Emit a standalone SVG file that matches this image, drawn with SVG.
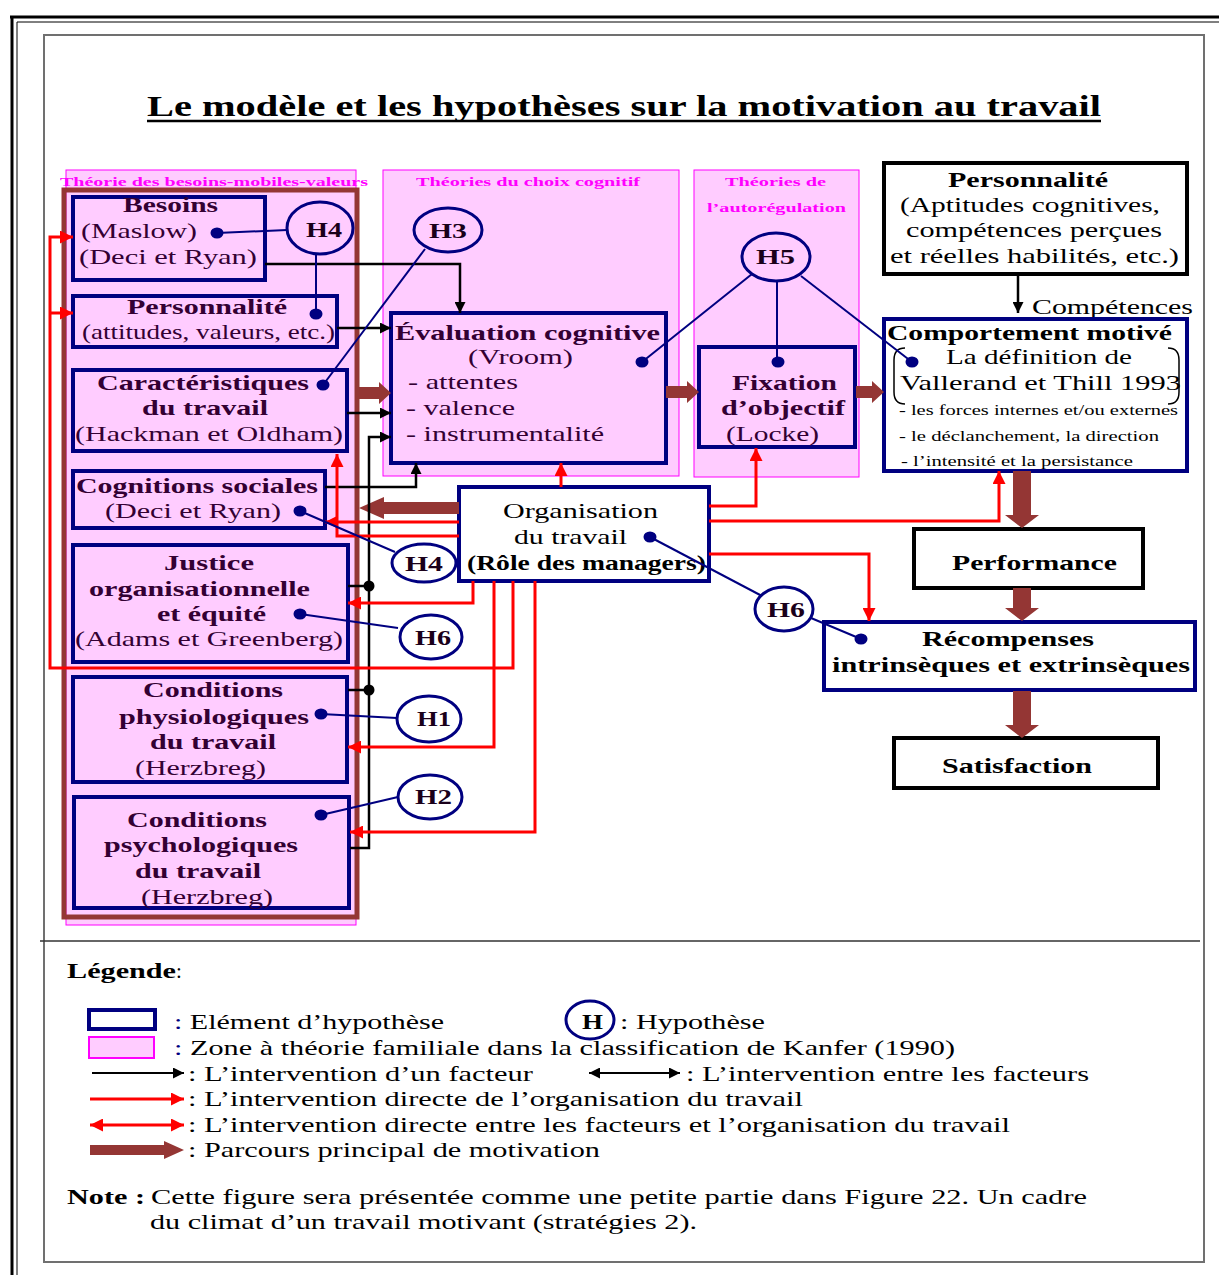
<svg xmlns="http://www.w3.org/2000/svg" width="1219" height="1275" viewBox="0 0 1219 1275">
<defs>
<style>
.z{fill:#FFCCFF;stroke:#FF00FF;stroke-width:1}
.n{fill:#FFCCFF;stroke:#000080;stroke-width:4}
.nw{fill:#fff;stroke:#000080;stroke-width:4}
.bk{fill:#fff;stroke:#000;stroke-width:4}
.t{font-family:"Liberation Serif","Times New Roman",serif;font-size:21px;fill:#330033}
.tk{font-family:"Liberation Serif","Times New Roman",serif;font-size:21px;fill:#000}
.s{font-family:"Liberation Serif","Times New Roman",serif;font-size:14px;fill:#000}
.b{font-weight:bold}
.zl{font-family:"Liberation Serif","Times New Roman",serif;font-size:13px;font-weight:bold;fill:#FF00FF}
.h{fill:none;stroke:#000080;stroke-width:3}
.ht{font-family:"Liberation Serif","Times New Roman",serif;font-size:21px;font-weight:bold;fill:#1a001a}
.dot{fill:#000080}
.bl{stroke:#000080;stroke-width:2;fill:none}
.k{stroke:#000;stroke-width:2.5;fill:none}
.r{stroke:#FF0000;stroke-width:3;fill:none}
.br{fill:#943634}
.fr{fill:none;stroke:#000}
</style>
<marker id="ak" viewBox="0 0 10 10" refX="10" refY="5" markerWidth="11" markerHeight="11" markerUnits="userSpaceOnUse" orient="auto-start-reverse"><path d="M0,0 L10,5 L0,10 z" fill="#000"/></marker>
<marker id="ar" viewBox="0 0 10 10" refX="10" refY="5" markerWidth="13" markerHeight="13" markerUnits="userSpaceOnUse" orient="auto-start-reverse"><path d="M0,0 L10,5 L0,10 z" fill="#FF0000"/></marker>
</defs>
<rect x="0" y="0" width="1219" height="1275" fill="#fff"/>

<!-- page frames -->
<g id="frame">
<path class="fr" d="M10,17 H1219 M12,17 V1275" stroke-width="3"/>
<path class="fr" d="M17,22 H1219 M17,22 V1275" stroke-width="1"/>
<rect x="44" y="35" width="1160" height="1227" fill="none" stroke="#707070" stroke-width="2"/>
<line x1="40" y1="941" x2="1200" y2="941" stroke="#333" stroke-width="1.5"/>
</g>

<g id="title">
<text x="147" y="116" textLength="954" lengthAdjust="spacingAndGlyphs" style="font-family:'Liberation Serif',serif;font-size:29px;font-weight:bold;fill:#000">Le modèle et les hypothèses sur la motivation au travail</text>
<line x1="147" y1="121" x2="1101" y2="121" stroke="#000" stroke-width="2.5"/>
</g>

<!-- theory zones -->
<g id="zone-besoins">
<rect class="z" x="66" y="170" width="290" height="755"/>
<text class="zl" x="60" y="186" textLength="308" lengthAdjust="spacingAndGlyphs">Théorie des besoins-mobiles-valeurs</text>
<rect x="64" y="190" width="293" height="727" fill="none" stroke="#943634" stroke-width="5"/>
</g>
<g id="zone-choix">
<rect class="z" x="383" y="170" width="296" height="306"/>
<text class="zl" x="416" y="186" textLength="224" lengthAdjust="spacingAndGlyphs">Théories du choix cognitif</text>
</g>
<g id="zone-autoregulation">
<rect class="z" x="694" y="170" width="165" height="307"/>
<text class="zl" x="725" y="186" textLength="101" lengthAdjust="spacingAndGlyphs">Théories de</text>
<text class="zl" x="707" y="212" textLength="139" lengthAdjust="spacingAndGlyphs">l’autorégulation</text>
</g>

<!-- left nodes -->
<g id="besoins">
<rect class="n" x="73" y="197" width="192" height="83"/>
<text class="t b" x="123" y="212" textLength="95" lengthAdjust="spacingAndGlyphs">Besoins</text>
<text class="t" x="81" y="238" textLength="116" lengthAdjust="spacingAndGlyphs">(Maslow)</text>
<text class="t" x="79" y="264" textLength="178" lengthAdjust="spacingAndGlyphs">(Deci et Ryan)</text>
<ellipse class="dot" cx="217" cy="233" rx="6.5" ry="5.5"/>
</g>
<g id="personnalite-gauche">
<rect class="n" x="73" y="296" width="264" height="51"/>
<text class="t b" x="127" y="314" textLength="160" lengthAdjust="spacingAndGlyphs">Personnalité</text>
<text class="t" x="82" y="339" textLength="253" lengthAdjust="spacingAndGlyphs">(attitudes, valeurs, etc.)</text>
<ellipse class="dot" cx="316" cy="314" rx="6.5" ry="5.5"/>
</g>
<g id="caracteristiques">
<rect class="n" x="73" y="370" width="274" height="81"/>
<text class="t b" x="97" y="390" textLength="212" lengthAdjust="spacingAndGlyphs">Caractéristiques</text>
<text class="t b" x="142" y="415" textLength="126" lengthAdjust="spacingAndGlyphs">du travail</text>
<text class="t" x="75" y="441" textLength="268" lengthAdjust="spacingAndGlyphs">(Hackman et Oldham)</text>
<ellipse class="dot" cx="323" cy="385" rx="6.5" ry="5.5"/>
</g>
<g id="cognitions-sociales">
<rect class="n" x="73" y="471" width="252" height="57"/>
<text class="t b" x="76" y="493" textLength="242" lengthAdjust="spacingAndGlyphs">Cognitions sociales</text>
<text class="t" x="105" y="518" textLength="176" lengthAdjust="spacingAndGlyphs">(Deci et Ryan)</text>
<ellipse class="dot" cx="300" cy="511" rx="6.5" ry="5.5"/>
</g>
<g id="justice">
<rect class="n" x="73" y="545" width="275" height="117"/>
<text class="t b" x="164" y="570" textLength="90" lengthAdjust="spacingAndGlyphs">Justice</text>
<text class="t b" x="89" y="596" textLength="221" lengthAdjust="spacingAndGlyphs">organisationnelle</text>
<text class="t b" x="157" y="621" textLength="109" lengthAdjust="spacingAndGlyphs">et équité</text>
<text class="t" x="75" y="646" textLength="268" lengthAdjust="spacingAndGlyphs">(Adams et Greenberg)</text>
<ellipse class="dot" cx="300" cy="614" rx="6.5" ry="5.5"/>
</g>
<g id="conditions-physiologiques">
<rect class="n" x="73" y="677" width="274" height="105"/>
<text class="t b" x="143" y="697" textLength="140" lengthAdjust="spacingAndGlyphs">Conditions</text>
<text class="t b" x="119" y="724" textLength="190" lengthAdjust="spacingAndGlyphs">physiologiques</text>
<text class="t b" x="150" y="749" textLength="126" lengthAdjust="spacingAndGlyphs">du travail</text>
<text class="t" x="135" y="775" textLength="131" lengthAdjust="spacingAndGlyphs">(Herzbreg)</text>
<ellipse class="dot" cx="321" cy="714" rx="6.5" ry="5.5"/>
</g>
<g id="conditions-psychologiques">
<rect class="n" x="74" y="797" width="275" height="111"/>
<text class="t b" x="127" y="827" textLength="140" lengthAdjust="spacingAndGlyphs">Conditions</text>
<text class="t b" x="104" y="852" textLength="194" lengthAdjust="spacingAndGlyphs">psychologiques</text>
<text class="t b" x="135" y="878" textLength="126" lengthAdjust="spacingAndGlyphs">du travail</text>
<text class="t" x="141" y="904" textLength="132" lengthAdjust="spacingAndGlyphs">(Herzbreg)</text>
<ellipse class="dot" cx="321" cy="815" rx="6.5" ry="5.5"/>
</g>

<!-- middle nodes -->
<g id="evaluation-cognitive">
<rect class="n" x="391" y="313" width="275" height="150"/>
<text class="t b" x="395" y="340" textLength="265" lengthAdjust="spacingAndGlyphs">Évaluation cognitive</text>
<text class="t" x="468" y="364" textLength="105" lengthAdjust="spacingAndGlyphs">(Vroom)</text>
<text class="t" x="408" y="389" textLength="110" lengthAdjust="spacingAndGlyphs">- attentes</text>
<text class="t" x="406" y="415" textLength="109" lengthAdjust="spacingAndGlyphs">- valence</text>
<text class="t" x="406" y="441" textLength="198" lengthAdjust="spacingAndGlyphs">- instrumentalité</text>
<ellipse class="dot" cx="642" cy="362" rx="6.5" ry="5.5"/>
</g>
<g id="organisation">
<rect class="nw" x="459" y="487" width="250" height="94"/>
<text class="tk" x="503" y="518" textLength="155" lengthAdjust="spacingAndGlyphs">Organisation</text>
<text class="tk" x="514" y="544" textLength="113" lengthAdjust="spacingAndGlyphs">du travail</text>
<text class="tk b" x="467" y="570" textLength="239" lengthAdjust="spacingAndGlyphs">(Rôle des managers)</text>
<ellipse class="dot" cx="650" cy="537" rx="6.5" ry="5.5"/>
</g>
<g id="fixation">
<rect class="n" x="699" y="347" width="156" height="100"/>
<text class="t b" x="732" y="390" textLength="105" lengthAdjust="spacingAndGlyphs">Fixation</text>
<text class="t b" x="721" y="415" textLength="124" lengthAdjust="spacingAndGlyphs">d’objectif</text>
<text class="t" x="726" y="441" textLength="93" lengthAdjust="spacingAndGlyphs">(Locke)</text>
<ellipse class="dot" cx="778" cy="362" rx="6.5" ry="5.5"/>
</g>

<!-- right nodes -->
<g id="personnalite-droite">
<rect class="bk" x="884" y="163" width="303" height="111"/>
<text class="tk b" x="948" y="187" textLength="160" lengthAdjust="spacingAndGlyphs">Personnalité</text>
<text class="tk" x="900" y="212" textLength="260" lengthAdjust="spacingAndGlyphs">(Aptitudes cognitives,</text>
<text class="tk" x="906" y="237" textLength="256" lengthAdjust="spacingAndGlyphs">compétences perçues</text>
<text class="tk" x="890" y="263" textLength="289" lengthAdjust="spacingAndGlyphs">et réelles habilités, etc.)</text>
</g>
<g id="competences-label">
<text class="tk" x="1032" y="314" textLength="161" lengthAdjust="spacingAndGlyphs">Compétences</text>
</g>
<g id="comportement-motive">
<rect class="nw" x="884" y="319" width="303" height="152"/>
<text class="tk b" x="887" y="340" textLength="285" lengthAdjust="spacingAndGlyphs">Comportement motivé</text>
<path d="M905,348 Q894,348 894,360 V392 Q894,404 905,404 M1168,348 Q1179,348 1179,360 V392 Q1179,404 1168,404" fill="none" stroke="#000" stroke-width="1.5"/>
<text class="tk" x="946" y="364" textLength="186" lengthAdjust="spacingAndGlyphs">La définition de</text>
<text class="tk" x="900" y="390" textLength="281" lengthAdjust="spacingAndGlyphs">Vallerand et Thill 1993</text>
<text class="s" x="899" y="415" textLength="279" lengthAdjust="spacingAndGlyphs">- les forces internes et/ou externes</text>
<text class="s" x="899" y="441" textLength="260" lengthAdjust="spacingAndGlyphs">- le déclanchement, la direction</text>
<text class="s" x="901" y="466" textLength="232" lengthAdjust="spacingAndGlyphs">- l’intensité et la persistance</text>
<ellipse class="dot" cx="912" cy="362" rx="6.5" ry="5.5"/>
</g>
<g id="performance">
<rect class="bk" x="914" y="529" width="229" height="59"/>
<text class="tk b" x="952" y="570" textLength="165" lengthAdjust="spacingAndGlyphs">Performance</text>
</g>
<g id="recompenses">
<rect class="nw" x="824" y="622" width="371" height="68"/>
<text class="tk b" x="922" y="646" textLength="172" lengthAdjust="spacingAndGlyphs">Récompenses</text>
<text class="tk b" x="832" y="672" textLength="358" lengthAdjust="spacingAndGlyphs">intrinsèques et extrinsèques</text>
<ellipse class="dot" cx="861" cy="639" rx="6.5" ry="5.5"/>
</g>
<g id="satisfaction">
<rect class="bk" x="894" y="738" width="264" height="50"/>
<text class="tk b" x="942" y="773" textLength="150" lengthAdjust="spacingAndGlyphs">Satisfaction</text>
</g>

<!-- connectors -->
<g id="connectors">
<!-- main brown path -->
<polygon class="br" points="357,387 379,387 379,382 391,393 379,404 379,399 357,399"/>
<polygon class="br" points="666,386 687,386 687,381 699,392 687,403 687,398 666,398"/>
<polygon class="br" points="856,386 872,386 872,381 884,392 872,403 872,398 856,398"/>
<polygon class="br" points="459,502 384,502 384,497 359,508 384,519 384,514 459,514"/>
<polygon class="br" points="1013,471 1013,515 1005,515 1022,528 1039,515 1031,515 1031,471"/>
<polygon class="br" points="1013,588 1013,608 1005,608 1022,621 1039,608 1031,608 1031,588"/>
<polygon class="br" points="1013,691 1013,725 1005,725 1022,738 1039,725 1031,725 1031,691"/>
<!-- black -->
<path class="k" d="M265,264 H460 V313" marker-end="url(#ak)"/>
<path class="k" d="M337,328 H391" marker-end="url(#ak)"/>
<path class="k" d="M347,413 H391" marker-end="url(#ak)"/>
<path class="k" d="M325,487 H416 V463" marker-end="url(#ak)"/>
<path class="k" d="M350,848 H369 V437 H391" stroke-width="3.5" marker-end="url(#ak)"/>
<path class="k" d="M348,586 H369 M348,690 H369"/>
<circle cx="369" cy="586" r="5.5" fill="#000"/>
<circle cx="369" cy="690" r="5.5" fill="#000"/>
<path class="k" d="M1018,274 V313" stroke-width="3" marker-end="url(#ak)"/>
<!-- red -->
<path class="r" d="M561,487 V463" marker-end="url(#ar)"/>
<path class="r" d="M709,506 H756 V448" marker-end="url(#ar)"/>
<path class="r" d="M709,521 H999 V471" marker-end="url(#ar)"/>
<path class="r" d="M709,554 H869 V621" marker-end="url(#ar)"/>
<path class="r" d="M459,522 H325" marker-end="url(#ar)"/>
<path class="r" d="M459,536 H337 V454" marker-end="url(#ar)"/>
<path class="r" d="M473,581 V603 H348" marker-end="url(#ar)"/>
<path class="r" d="M494,581 V747 H348" marker-end="url(#ar)"/>
<path class="r" d="M513,581 V668 H50 V237 H73" marker-end="url(#ar)"/>
<path class="r" d="M50,313 H73" marker-end="url(#ar)"/>
<path class="r" d="M535,581 V832 H350" marker-end="url(#ar)"/>
<!-- hypothesis links -->
<path class="bl" d="M217,233 L287,230"/>
<path class="bl" d="M316,254 V314"/>
<path class="bl" d="M425,249 L323,385"/>
<path class="bl" d="M752,274 L642,362"/>
<path class="bl" d="M777,281 V362"/>
<path class="bl" d="M801,276 L912,362"/>
<path class="bl" d="M300,511 L395,552"/>
<path class="bl" d="M300,614 L398,628"/>
<path class="bl" d="M321,714 L397,718"/>
<path class="bl" d="M321,815 L398,797"/>
<path class="bl" d="M650,537 L762,596"/>
<path class="bl" d="M811,618 L861,639"/>
</g>

<!-- hypotheses -->
<g id="h4-haut"><ellipse class="h" cx="320" cy="228" rx="33" ry="26"/><text class="ht" x="306" y="237" textLength="36" lengthAdjust="spacingAndGlyphs">H4</text></g>
<g id="h3"><ellipse class="h" cx="448" cy="230" rx="34" ry="22"/><text class="ht" x="429" y="238" textLength="38" lengthAdjust="spacingAndGlyphs">H3</text></g>
<g id="h5"><ellipse class="h" cx="776" cy="257" rx="34" ry="24"/><text class="ht" x="756" y="264" textLength="39" lengthAdjust="spacingAndGlyphs">H5</text></g>
<g id="h4-bas"><ellipse class="h" cx="424" cy="563" rx="32" ry="19"/><text class="ht" x="405" y="571" textLength="38" lengthAdjust="spacingAndGlyphs">H4</text></g>
<g id="h6-gauche"><ellipse class="h" cx="431" cy="637" rx="31" ry="22"/><text class="ht" x="415" y="645" textLength="36" lengthAdjust="spacingAndGlyphs">H6</text></g>
<g id="h1"><ellipse class="h" cx="429" cy="719" rx="32" ry="23"/><text class="ht" x="417" y="726" textLength="34" lengthAdjust="spacingAndGlyphs">H1</text></g>
<g id="h2"><ellipse class="h" cx="430" cy="797" rx="32" ry="22"/><text class="ht" x="415" y="804" textLength="37" lengthAdjust="spacingAndGlyphs">H2</text></g>
<g id="h6-droite"><ellipse class="h" cx="784" cy="609" rx="29" ry="22"/><text class="ht" x="767" y="617" textLength="38" lengthAdjust="spacingAndGlyphs">H6</text></g>

<!-- legend -->
<g id="legende">
<text class="tk b" x="67" y="978" textLength="109" lengthAdjust="spacingAndGlyphs">Légende</text>
<text class="tk" x="176" y="978">:</text>
<rect x="89" y="1010" width="66" height="19" fill="#fff" stroke="#000080" stroke-width="4"/>
<text class="tk" x="174" y="1029" textLength="270" lengthAdjust="spacingAndGlyphs"><tspan fill="#000080">:</tspan> Elément d’hypothèse</text>
<ellipse cx="590" cy="1020" rx="24" ry="19" fill="none" stroke="#000080" stroke-width="3"/>
<text class="tk b" x="582" y="1029" textLength="21" lengthAdjust="spacingAndGlyphs">H</text>
<text class="tk" x="620" y="1029" textLength="145" lengthAdjust="spacingAndGlyphs">: Hypothèse</text>
<rect x="89" y="1037" width="65" height="21" fill="#FFCCFF" stroke="#FF00FF" stroke-width="2"/>
<text class="tk" x="174" y="1055" textLength="781" lengthAdjust="spacingAndGlyphs"><tspan fill="#000080">:</tspan> Zone à théorie familiale dans la classification de Kanfer (1990)</text>
<path d="M92,1073 H184" stroke="#000" stroke-width="2" marker-end="url(#ak)"/>
<text class="tk" x="188" y="1081" textLength="345" lengthAdjust="spacingAndGlyphs">: L’intervention d’un facteur</text>
<path d="M589,1073 H680" stroke="#000" stroke-width="2" marker-start="url(#ak)" marker-end="url(#ak)"/>
<text class="tk" x="686" y="1081" textLength="403" lengthAdjust="spacingAndGlyphs">: L’intervention entre les facteurs</text>
<path d="M90,1099 H184" stroke="#FF0000" stroke-width="3" marker-end="url(#ar)"/>
<text class="tk" x="188" y="1106" textLength="615" lengthAdjust="spacingAndGlyphs">: L’intervention directe de l’organisation du travail</text>
<path d="M90,1125 H184" stroke="#FF0000" stroke-width="3" marker-start="url(#ar)" marker-end="url(#ar)"/>
<text class="tk" x="188" y="1132" textLength="822" lengthAdjust="spacingAndGlyphs">: L’intervention directe entre les facteurs et l’organisation du travail</text>
<polygon class="br" points="90,1145 164,1145 164,1141 184,1150 164,1159 164,1155 90,1155"/>
<text class="tk" x="188" y="1157" textLength="412" lengthAdjust="spacingAndGlyphs">: Parcours principal de motivation</text>
<text class="tk b" x="67" y="1204" textLength="78" lengthAdjust="spacingAndGlyphs">Note :</text>
<text class="tk" x="151" y="1204" textLength="936" lengthAdjust="spacingAndGlyphs">Cette figure sera présentée comme une petite partie dans Figure 22. Un cadre</text>
<text class="tk" x="150" y="1229" textLength="547" lengthAdjust="spacingAndGlyphs">du climat d’un travail motivant (stratégies 2).</text>
</g>
</svg>
